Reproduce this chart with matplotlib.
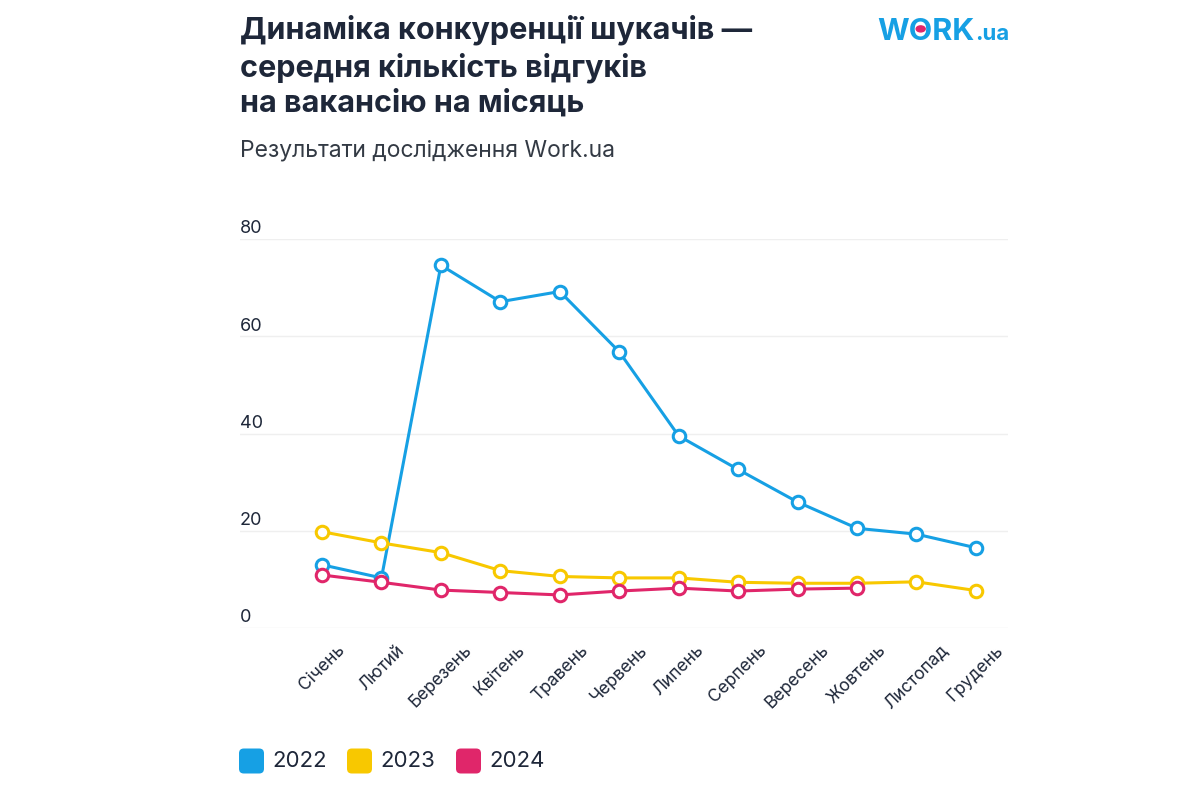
import matplotlib
matplotlib.use("Agg")
import matplotlib.pyplot as plt
from matplotlib.patches import Circle, FancyBboxPatch
from matplotlib.transforms import offset_copy

plt.rcParams['font.family'] = ['Inter', 'DejaVu Sans']

months = ["Січень", "Лютий", "Березень", "Квітень", "Травень", "Червень",
          "Липень", "Серпень", "Вересень", "Жовтень", "Листопад", "Грудень"]
y2022 = [13.0, 10.3, 74.6, 67.1, 69.2, 56.8, 39.5, 32.6, 25.9, 20.5, 19.3, 16.5]
y2023 = [19.8, 17.5, 15.5, 11.8, 10.6, 10.3, 10.3, 9.4, 9.2, 9.2, 9.5, 7.7]
y2024 = [10.9, 9.4, 7.8, 7.3, 6.8, 7.6, 8.2, 7.6, 8.0, 8.2]
series_names = ["2022", "2023", "2024"]
yticks = [0, 20, 40, 60, 80]

title = "Динаміка конкуренції шукачів —\nсередня кількість відгуків\nна вакансію на місяць"
subtitle = "Результати дослідження Work.ua"

C_BLUE = "#16a0e4"
C_YEL = "#f8c800"
C_PINK = "#e0266a"
C_TEXT = "#1e2739"
W, H = 1200, 800

fig = plt.figure(figsize=(12, 8), dpi=100)
fig.patch.set_facecolor("white")
ax = fig.add_axes([0.2, 0.215, 0.64, 0.48625])

for vals, c in zip([y2022, y2023, y2024], [C_BLUE, C_YEL, C_PINK]):
    xs = list(range(len(vals)))
    ax.plot(xs, vals, color=c, lw=2.2, marker='o', markersize=9,
            markerfacecolor='white', markeredgecolor=c, markeredgewidth=2.2,
            clip_on=False, zorder=3)

ax.set_xlim(-1.38, 11.54)
ax.set_ylim(0, 80)
for s in ax.spines.values():
    s.set_visible(False)
ax.set_yticks(yticks)
ax.yaxis.grid(True, color="#efefef", lw=1)
ax.tick_params(axis='y', length=0, labelleft=False)
ax.set_axisbelow(True)

tr = offset_copy(ax.get_yaxis_transform(), fig=fig, x=0, y=1.2, units='points')
for v in yticks:
    ax.text(0.0, v, str(v), transform=tr, ha='left', va='bottom',
            fontsize=13, color=C_TEXT)

ax.set_xticks(range(len(months)))
ax.set_xticklabels(months, rotation=45, ha='center', fontsize=12.5, color=C_TEXT)
ax.tick_params(axis='x', length=0, pad=10)

fig.text(0.2, 0.982, title, ha='left', va='top', fontsize=22, fontweight='bold',
         color=C_TEXT, linespacing=1.3)
fig.text(0.2, 0.812, subtitle, ha='left', va='center', fontsize=16.5,
         color="#333a44")

# logo
base_y = 0.95
lt = fig.text(0.731, base_y, "WORK", ha='left', va='baseline', fontsize=22,
              fontweight='bold', color=C_BLUE)
fig.canvas.draw()
r = fig.canvas.get_renderer()
bb = lt.get_window_extent(r)
fig.text((bb.x1 + 1) / W, base_y, ".ua", ha='left', va='baseline', fontsize=16,
         fontweight='bold', color=C_BLUE)
tmp = fig.text(0, 0, "W", fontsize=22, fontweight='bold')
wbb = tmp.get_window_extent(r)
tmp2 = fig.text(0, 0, "WO", fontsize=22, fontweight='bold')
wobb = tmp2.get_window_extent(r)
tmp.remove(); tmp2.remove()
ox = bb.x0 + (wbb.width + wobb.width) / 2
cap_px = 0.727 * 22 * 100 / 72
oy = base_y * H + cap_px / 2
fig.add_artist(Circle((ox / W, oy / H), 4.5 / W, transform=fig.transFigure,
                      color=C_PINK, zorder=5))

# legend (rounded squares + labels)
leg_y = 761
sq = 23
xpos = [240, 348, 457]
for name, c, x in zip(series_names, [C_BLUE, C_YEL, C_PINK], xpos):
    fig.add_artist(FancyBboxPatch(((x + 2) / W, (H - leg_y - sq / 2 + 2) / H),
                                  (sq - 4) / W, (sq - 4) / H,
                                  boxstyle="round,pad=0.0025,rounding_size=0.004",
                                  transform=fig.transFigure, facecolor=c,
                                  edgecolor=c, lw=0, mutation_aspect=1.5))
    fig.text((x + sq + 9) / W, (H - leg_y) / H, name, ha='left', va='center',
             fontsize=16, color=C_TEXT)

fig.savefig("out.png", dpi=100, facecolor="white")
